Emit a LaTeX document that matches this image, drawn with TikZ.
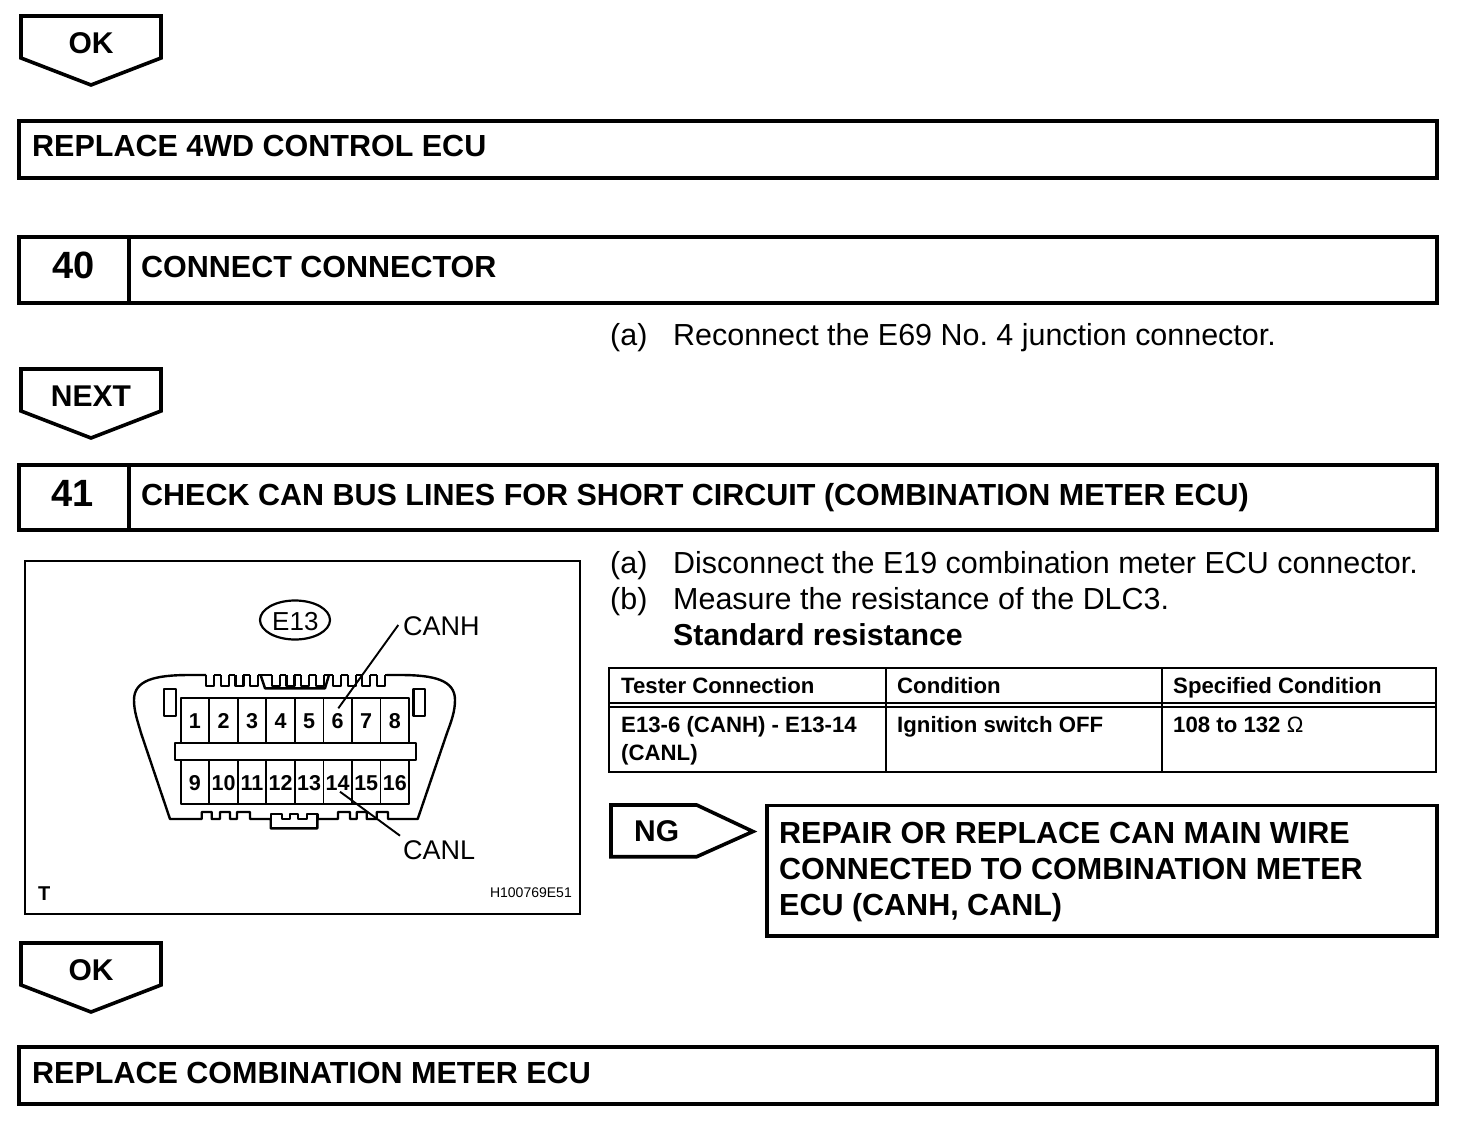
\documentclass[tikz,border=0pt]{standalone}
\usepackage{fontspec}
\setmainfont{Liberation Sans}
\frenchspacing
\tikzset{x=1pt,y=-1pt,
 frame/.style={draw,line width=3.6pt,line join=miter},
 thinframe/.style={draw,line width=2.2pt},
 tabframe/.style={draw,line width=2pt},
 headtxt/.style={font=\fontsize{30.5}{36}\selectfont\bfseries,anchor=base west,inner sep=0pt},
 tagtxt/.style={font=\fontsize{30}{36}\selectfont\bfseries,anchor=base,inner sep=0pt},
 numtxt/.style={font=\fontsize{38}{40}\selectfont\bfseries,anchor=base,inner sep=0pt},
 bodytxt/.style={font=\fontsize{30.45}{36}\selectfont,anchor=base west,inner sep=0pt},
 boldtxt/.style={font=\fontsize{30.3}{36}\selectfont\bfseries,anchor=base west,inner sep=0pt},
 tabtxt/.style={font=\fontsize{22.2}{28}\selectfont\bfseries,anchor=base west,inner sep=0pt},
 pintxt/.style={font=\fontsize{21.5}{26}\selectfont\bfseries,anchor=base,inner sep=0pt},
 figtxt/.style={font=\fontsize{27}{30}\selectfont,anchor=base west,inner sep=0pt},
 smalltxt/.style={font=\fontsize{14}{16}\selectfont,anchor=base east,inner sep=0pt},
 conn/.style={draw,line width=2.4pt,line join=round},
 leader/.style={draw,line width=1.9pt},
}
\newcommand{\downtag}[3]{\draw[frame] (21,#1) -- (161,#1) -- (161,#1+42) -- (91,#1+69) -- (21,#1+42) -- cycle;
 \node[tagtxt] (#3) at (91,#1+37.5) {#2};}
\begin{document}
\begin{tikzpicture}
\useasboundingbox (0,0) rectangle (1472,1148);
% top
\downtag{16}{OK}{ok1}
\draw[frame] (19,121) rectangle (1437,178);
\node[headtxt] (t1) at (32,156) {REPLACE 4WD CONTROL ECU};
% 40
\draw[frame] (19,237) rectangle (1437,303);
\draw[frame] (129,237) -- (129,303);
\node[numtxt] (n40) at (74,278.5) {40};
\node[headtxt] (t40) at (141,277) {CONNECT CONNECTOR};
\node[bodytxt] (a40l) at (610,345) {(a)};
\node[bodytxt] (a40) at (673,345) {Reconnect the E69 No. 4 junction connector.};
\downtag{369}{NEXT}{next}
% 41
\draw[frame] (19,465) rectangle (1437,530);
\draw[frame] (129,465) -- (129,530);
\node[numtxt] (n41) at (73,506.5) {41};
\node[headtxt] (t41) at (141,505) {CHECK CAN BUS LINES FOR SHORT CIRCUIT (COMBINATION METER ECU)};
% figure
\draw[thinframe] (25,561) rectangle (580,914);
\draw[line width=2.2pt] (295,620) ellipse (35 and 19.5);
\node[figtxt,font=\fontsize{26}{30}\selectfont] (e13) at (272,630) {E13};
\node[figtxt] (canh) at (403,635) {CANH};
\node[figtxt] (canl) at (403,859) {CANL};
\node[font=\fontsize{20}{24}\selectfont\bfseries,anchor=base west,inner sep=0pt] (tt) at (38,900) {T};
\node[smalltxt] (code) at (572,897) {H100769E51};
% connector outline
\draw[conn] (206,675) -- (190,675) .. controls (155,675) and (134,680) .. (134,700)
  .. controls (134,712) and (138,722) .. (141,733) -- (170,819) -- (201.7,819)
  -- (201.7,812) -- (211.7,812) -- (211.7,819) -- (220,819) -- (220,812) -- (230,812)
  -- (230,819) -- (237,819) -- (237,812) -- (250,812) -- (250,819) -- (270.7,819)
  -- (270.7,828.3) -- (317.3,828.3) -- (317.3,819) -- (338,819) -- (338,812) -- (350,812)
  -- (350,819) -- (356.7,819) -- (356.7,812) -- (366.7,812) -- (366.7,819) -- (376.7,819)
  -- (376.7,812) -- (388,812) -- (388,819) -- (417.7,819) -- (447,733)
  .. controls (451,722) and (455,712) .. (455,700) .. controls (455,680) and (434,675) .. (400,675)
  -- (386.7,675);
\draw[conn] (270.7,819) -- (270.7,814) -- (281.7,814) -- (281.7,819) -- (290,819) -- (290,814)
  -- (298,814) -- (298,819) -- (306.7,819) -- (306.7,814) -- (317.3,814) -- (317.3,819);
\foreach \x in {206,220.7,235.4,250.1,271.7,286.3,301,315.7,333,348,362,377}{
  \draw[conn] (\x,675) -- (\x,686) -- (\x+8,686) -- (\x+8,675);
  }
\foreach \x/\xx in {214/220.7,228.7/235.4,243.4/250.1,258.1/271.7,279.7/286.3,294.3/301,309/315.7,323.7/333,341/348,356/362,370/377,385/386.7}{
  \draw[conn] (\x,675) -- (\xx,675);
  }
\draw[conn] (260.6,675) -- (265,688.3) -- (325,688.3) -- (329,675);
% side tabs
\draw[conn] (164,689) rectangle (176,716);
\draw[conn] (413.3,689) rectangle (425,716);
% contact block
\draw[conn] (180.7,697.7) rectangle (409,804);
\foreach \i in {1,...,7}{
  \draw[conn,line width=1.8pt] ({180.7+28.54*\i},697.7) -- ({180.7+28.54*\i},804);
  }
\draw[conn,fill=white] (175,742.7) rectangle (416,760);
\foreach \i in {1,...,8}{
  \node[pintxt] (p\i) at ({180.7+28.54*(\i-.5)},728) {\i};
  }
\foreach \i [evaluate=\i as \j using int(\i+8)] in {1,...,8}{
  \node[pintxt] (p\j) at ({180.7+28.54*(\i-.5)},790) {\j};
  }
\coordinate (h1) at (398.3,625);
\coordinate (h2) at (338.3,708.3);
\coordinate (l1) at (400,835.7);
\coordinate (l2) at (340,791.7);
\draw[leader] (h1) -- (h2);
\draw[leader] (l1) -- (l2);
% right column
\node[bodytxt] (al) at (610,573) {(a)};
\node[bodytxt] (at) at (673,573) {Disconnect the E19 combination meter ECU connector.};
\node[bodytxt] (bl) at (610,609) {(b)};
\node[bodytxt] (bt) at (673,609) {Measure the resistance of the DLC3.};
\node[boldtxt] (sr) at (673,645) {Standard resistance};
% table
\draw[tabframe] (609.3,667.5) rectangle (1436,771.5);
\draw[tabframe] (609.3,703.3) -- (1436,703.3);
\draw[tabframe] (609.3,707.3) -- (1436,707.3);
\draw[tabframe] (885.7,667.5) -- (885.7,771.5);
\draw[tabframe] (1161.5,667.5) -- (1161.5,771.5);
\node[tabtxt] (h1t) at (621,693) {Tester Connection};
\node[tabtxt] (h2t) at (897,693) {Condition};
\node[tabtxt] (h3t) at (1173,693) {Specified Condition};
\node[tabtxt] (c1a) at (621,732) {E13-6 (CANH) - E13-14};
\node[tabtxt] (c1b) at (621,760) {(CANL)};
\node[tabtxt] (c2) at (897,732) {Ignition switch OFF};
\node[tabtxt] (c3) at (1173,732) {108 to 132 {\mdseries Ω}};
% NG
\draw[frame] (611,805) -- (696.7,805) -- (753,831.5) -- (696.7,856.7) -- (611,856.7) -- cycle;
\node[tagtxt,anchor=base west] (ng) at (634,841) {NG};
\draw[frame] (767,805.5) rectangle (1437,936);
\node[headtxt] (r1) at (779,843) {REPAIR OR REPLACE CAN MAIN WIRE};
\node[headtxt] (r2) at (779,879) {CONNECTED TO COMBINATION METER};
\node[headtxt] (r3) at (779,915) {ECU (CANH, CANL)};
% bottom
\downtag{943}{OK}{ok2}
\draw[frame] (19,1047) rectangle (1437,1104);
\node[headtxt] (t2) at (32,1083) {REPLACE COMBINATION METER ECU};
\end{tikzpicture}
\end{document}
